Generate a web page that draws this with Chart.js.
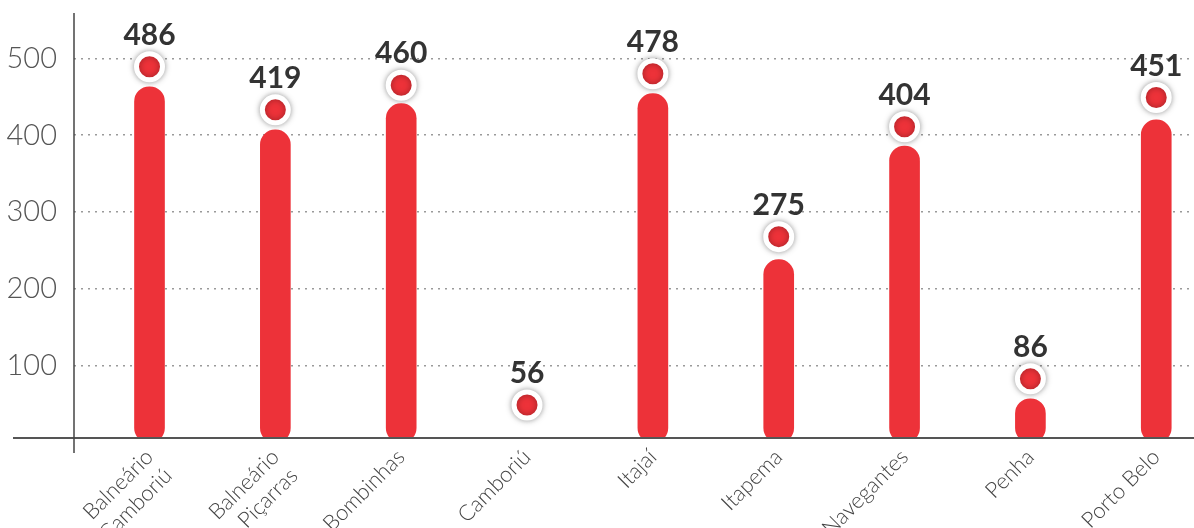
<!DOCTYPE html>
<html>
<head>
<meta charset="utf-8">
<script src="https://cdn.jsdelivr.net/npm/chart.js@4/dist/chart.umd.min.js"></script>
<style>
  html, body { margin: 0; padding: 0; background: #fff; }
  #wrap { width: 1194px; height: 528px; }
</style>
</head>
<body>
<div id="wrap"><canvas id="c" width="1194" height="528"></canvas></div>
<script>
const categories = [["Balneário","Camboriú"], ["Balneário","Piçarras"], "Bombinhas", "Camboriú", "Itajaí", "Itapema", "Navegantes", "Penha", "Porto Belo"];
const values = [486, 419, 460, 56, 478, 275, 404, 86, 451];
const markerLevels = [489, 433, 465, 49, 480, 268, 411, 83, 449];
const barTops = [463, 407, 441, null, 454, 238, 386, 57, 420];
const yTickValues = [100, 200, 300, 400, 500];

const RED = '#ed3239';
const FONT = "Lato, 'Open Sans', 'DejaVu Sans', sans-serif";

const markerShadow = {
  id: 'markerShadow',
  beforeDatasetDraw(chart, args) {
    if (args.index === 1) {
      const ctx = chart.ctx;
      ctx.save();
      ctx.shadowColor = 'rgba(0,0,0,0.35)';
      ctx.shadowBlur = 6;
    }
  },
  afterDatasetDraw(chart, args) {
    if (args.index === 1) chart.ctx.restore();
  }
};

const axisLines = {
  id: 'axisLines',
  afterDatasetsDraw(chart) {
    const ctx = chart.ctx, a = chart.chartArea;
    ctx.save();
    ctx.strokeStyle = '#555';
    ctx.lineWidth = 2;
    ctx.beginPath();
    ctx.moveTo(a.left - 61, a.bottom);
    ctx.lineTo(chart.width, a.bottom);
    ctx.stroke();
    ctx.strokeStyle = '#444';
    ctx.lineWidth = 1.5;
    ctx.beginPath();
    ctx.moveTo(a.left, a.top);
    ctx.lineTo(a.left, a.bottom + 15);
    ctx.stroke();
    ctx.restore();
  }
};

const valueLabels = {
  id: 'valueLabels',
  afterDatasetsDraw(chart) {
    const ctx = chart.ctx;
    const meta = chart.getDatasetMeta(1);
    ctx.save();
    ctx.font = "bold 30px " + FONT;
    ctx.fillStyle = '#333';
    ctx.textAlign = 'center';
    ctx.textBaseline = 'alphabetic';
    meta.data.forEach((pt, i) => {
      ctx.fillText(String(values[i]), pt.x, pt.y - 22);
    });
    ctx.restore();
  }
};

new Chart(document.getElementById('c'), {
  type: 'bar',
  data: {
    datasets: [
      {
        type: 'bar',
        data: barTops.map((v, i) => ({ x: i, y: v })),
        backgroundColor: RED,
        barThickness: 30,
        borderRadius: 15,
        borderSkipped: false
      },
      {
        type: 'scatter',
        data: markerLevels.map((v, i) => ({ x: i, y: v })),
        backgroundColor: RED,
        borderColor: '#fff',
        borderWidth: 5,
        pointRadius: 13,
        pointHoverRadius: 13
      }
    ]
  },
  options: {
    responsive: false,
    animation: false,
    events: [],
    layout: { autoPadding: false, padding: { top: 13, left: 0, right: 0, bottom: 0 } },
    plugins: { legend: { display: false }, tooltip: { enabled: false } },
    scales: {
      x: {
        type: 'linear',
        offset: false,
        min: -0.6,
        max: 8.3,
        grid: { display: false, drawTicks: false, offset: false },
        border: { display: false },
        afterBuildTicks(scale) { scale.ticks = categories.map((_, i) => ({ value: i })); },
        afterFit(scale) { scale.height = 90; scale.paddingLeft = 0; scale.paddingRight = 0; },
        ticks: {
          autoSkip: false,
          minRotation: 45,
          maxRotation: 45,
          padding: 6,
          color: '#444',
          font: { family: FONT, size: 22, weight: '300' },
          callback: (v) => categories[v]
        }
      },
      y: {
        min: 6,
        max: 559,
        grid: { color: '#9a9a9a', lineWidth: 1.5, drawTicks: false },
        border: { display: false, dash: [2, 5] },
        afterBuildTicks(scale) { scale.ticks = yTickValues.map(v => ({ value: v })); },
        afterFit(scale) { scale.width = 74; scale.paddingTop = 0; scale.paddingBottom = 0; },
        ticks: {
          padding: 17,
          color: '#555',
          font: { family: FONT, size: 29, weight: '300', lineHeight: 0.6 }
        }
      }
    }
  },
  plugins: [markerShadow, axisLines, valueLabels]
});
</script>
</body>
</html>
